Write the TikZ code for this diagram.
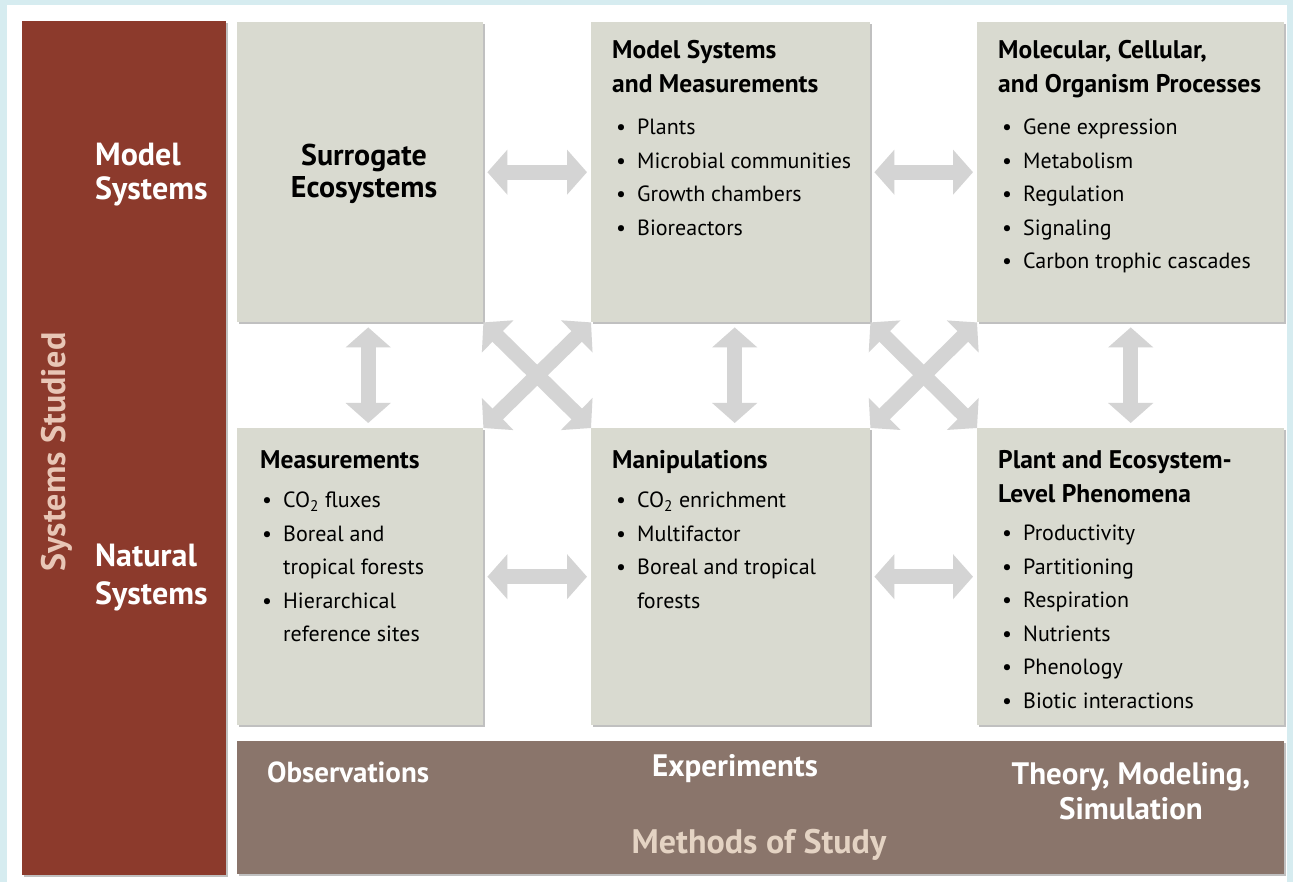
\documentclass[tikz,border=0pt]{standalone}
\usepackage{fontspec}
\setmainfont{PT Sans}
\usetikzlibrary{positioning,arrows.meta,shadows}

\definecolor{frameblue}{HTML}{D6ECF0}
\definecolor{barred}{HTML}{8C3A2C}
\definecolor{boxgrey}{HTML}{D9DAD0}
\definecolor{methbrown}{HTML}{8A756B}
\definecolor{arrowgrey}{HTML}{D4D4D4}
\definecolor{palered}{HTML}{E8C6B6}
\definecolor{palebrown}{HTML}{E4D3C3}

\newcommand{\bul}{\makebox[21pt][l]{\textbullet}}
\newcommand{\ind}{\hspace*{21pt}}

\tikzset{
  panel/.style={anchor=north west, inner sep=0pt, draw=none,
    drop shadow={shadow xshift=1.5pt, shadow yshift=-2pt, opacity=0.35, fill=black!70}},
  tbox/.style={panel, fill=boxgrey},
  head/.style={anchor=north west, inner sep=0pt, align=left,
    font=\bfseries\fontsize{25.5}{34}\selectfont},
  body/.style={anchor=north west, inner sep=0pt, align=left,
    font=\fontsize{22}{33.5}\selectfont},
  sidelabel/.style={anchor=north west, inner sep=0pt, align=left, text=white,
    font=\bfseries\fontsize{32}{34}\selectfont},
  methlabel/.style={inner sep=0pt, align=center, text=white,
    font=\bfseries\fontsize{31}{35}\selectfont},
  duo/.style={draw=arrowgrey, line width=15pt,
    {Triangle[width=44pt,length=20pt]}-{Triangle[width=44pt,length=20pt]}},
}

\begin{document}
\begin{tikzpicture}[x=1pt, y=-1pt]
    % frame
    \useasboundingbox (0,0) rectangle (1293,882);
    \fill[frameblue] (0,0) rectangle (1293,882);
    \fill[white] (7,5) rectangle (1287,882);

    % Systems Studied bar
    \node[panel, fill=barred, minimum width=204pt, minimum height=854pt] (sysbar) at (22,21) {};
    \node[rotate=90, text=palered, font=\bfseries\fontsize{34}{36}\selectfont] (studied) at (57,452) {Systems Studied};
    \node[sidelabel] (modlab) at (95,143) {Model\\Systems};
    \node[sidelabel, font=\bfseries\fontsize{32}{38}\selectfont] (natlab) at (95,544) {Natural\\Systems};

    % Boxes, row of model systems
    \node[tbox, minimum width=246pt, minimum height=300pt] (sur) at (237,22) {};
    \node[tbox, minimum width=279pt, minimum height=300pt] (msm) at (591,22) {};
    \node[tbox, minimum width=307pt, minimum height=300pt] (mol) at (977,22) {};
    % Boxes, row of natural systems
    \node[tbox, minimum width=246pt, minimum height=297pt] (meas) at (237,428) {};
    \node[tbox, minimum width=279pt, minimum height=297pt] (man) at (591,428) {};
    \node[tbox, minimum width=307pt, minimum height=297pt] (plant) at (977,428) {};

    % Box texts
    \node[head, anchor=center, align=center, font=\bfseries\fontsize{30}{32}\selectfont] (surtxt) at (364,174) {Surrogate\\Ecosystems};

    \node[head] (msmhd) at (612,40) {Model Systems\\and Measurements};
    \node[body] (msmli) at (616,119) {\bul Plants\\\bul Microbial communities\\\bul Growth chambers\\\bul Bioreactors};

    \node[head] (molhd) at (998,40) {Molecular, Cellular,\\and Organism Processes};
    \node[body] (molli) at (1002,119) {\bul Gene expression\\\bul Metabolism\\\bul Regulation\\\bul Signaling\\\bul Carbon trophic cascades};

    \node[head] (meashd) at (260,450) {Measurements};
    \node[body] (measli) at (262,492) {\bul CO\textsubscript{2} fluxes\\\bul Boreal and\\\ind tropical forests\\\bul Hierarchical\\\ind reference sites};

    \node[head] (manhd) at (612,450) {Manipulations};
    \node[body] (manli) at (616,492) {\bul CO\textsubscript{2} enrichment\\\bul Multifactor\\\bul Boreal and tropical\\\ind forests};

    \node[head] (planthd) at (998,450) {Plant and Ecosystem-\\Level Phenomena};
    \node[body] (plantli) at (1002,525) {\bul Productivity\\\bul Partitioning\\\bul Respiration\\\bul Nutrients\\\bul Phenology\\\bul Biotic interactions};

    % Methods of Study bar
    \node[panel, fill=methbrown, minimum width=1047pt, minimum height=133pt] (methbar) at (237,741) {};
    \node[methlabel, anchor=west, font=\bfseries\fontsize{29}{35}\selectfont] (obs) at (267,772) {Observations};
    \node[methlabel] (exp) at (735,769) {Experiments};
    \node[methlabel] (theo) at (1131,791) {Theory, Modeling,\\Simulation};
    \node[methlabel, text=palebrown, font=\bfseries\fontsize{34}{36}\selectfont] (methods) at (759,845) {Methods of Study};

    % Arrows between boxes
    \foreach \a/\b in {sur/msm, msm/mol, meas/man, man/plant}
        \draw[duo, shorten <=4pt, shorten >=4pt] (\a) -- (\b);
    \foreach \a/\b/\dx in {sur/meas/8, msm/man/4, mol/plant/0}
        \draw[duo, shorten <=5pt, shorten >=5pt] ([xshift=\dx pt]\a.south) -- ([xshift=\dx pt]\b.north);
    \draw[duo] (sur.south east) -- (man.north west);
    \draw[duo] (meas.north east) -- (msm.south west);
    \draw[duo] (msm.south east) -- (plant.north west);
    \draw[duo] (man.north east) -- (mol.south west);
\end{tikzpicture}
\end{document}
